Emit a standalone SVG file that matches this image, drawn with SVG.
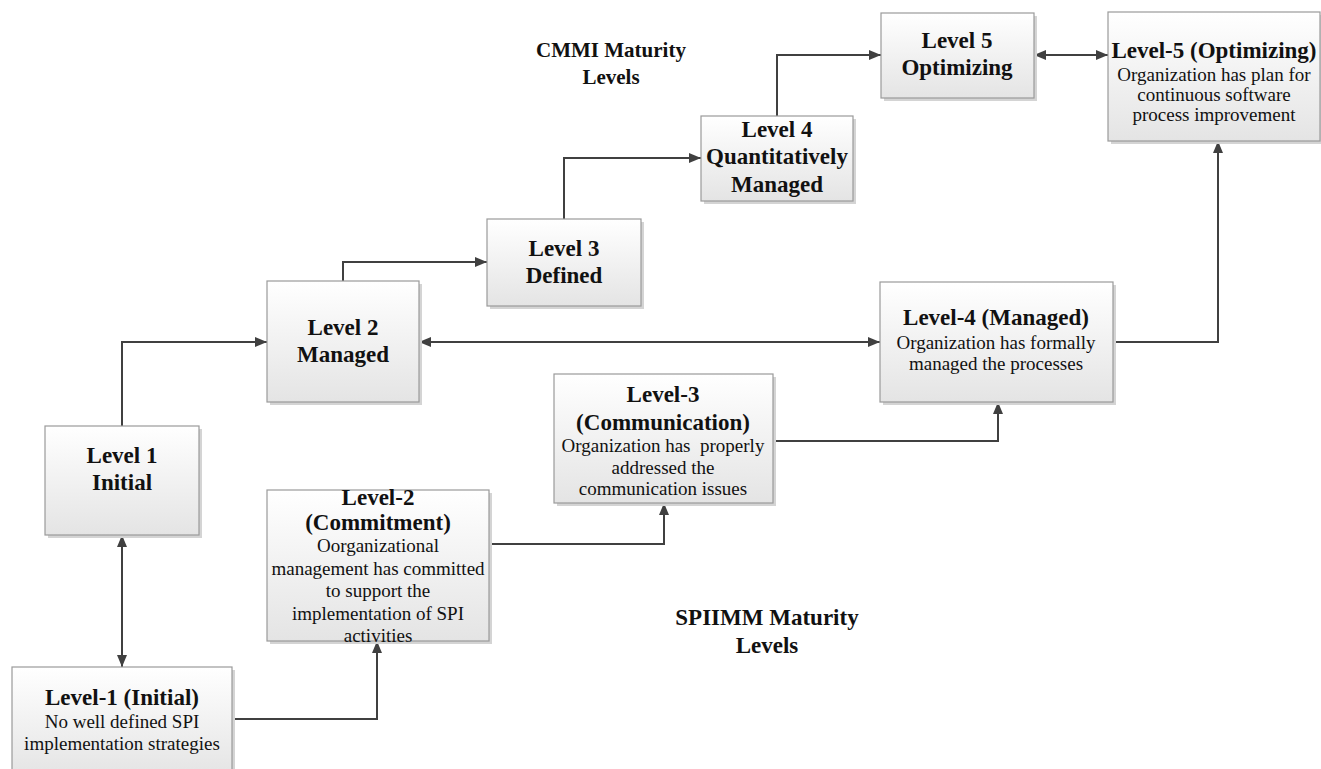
<svg xmlns="http://www.w3.org/2000/svg" width="1321" height="769" viewBox="0 0 1321 769">
<defs>
<linearGradient id="g" x1="0" y1="0" x2="0" y2="1">
<stop offset="0" stop-color="#ffffff"/>
<stop offset="1" stop-color="#e4e4e4"/>
</linearGradient>
<marker id="ah" viewBox="0 0 12 10" refX="12" refY="5" markerWidth="12" markerHeight="10" markerUnits="userSpaceOnUse" orient="auto-start-reverse">
<path d="M0,0 L12,5 L0,10 z" fill="#404040"/>
</marker>
<style>
.sh{fill:#d4d4d4}
.bx{fill:url(#g);stroke:#9a9a9a;stroke-width:1.2}
.c{fill:none;stroke:#404040;stroke-width:2}
.t{font-family:'Liberation Serif','Times New Roman',serif;font-weight:bold;font-size:23px;fill:#111;text-anchor:middle}
.b{font-family:'Liberation Serif','Times New Roman',serif;font-size:19px;fill:#111;text-anchor:middle}
</style>
</defs>
<rect width="1321" height="769" fill="#ffffff"/>

<g id="connectors">
<path class="c" d="M122,426 V342 H267" marker-end="url(#ah)"/>
<path class="c" d="M343,281 V262 H487" marker-end="url(#ah)"/>
<path class="c" d="M564,219 V158 H701" marker-end="url(#ah)"/>
<path class="c" d="M777,116 V55 H881" marker-end="url(#ah)"/>
<path class="c" d="M1034,55 H1108" marker-start="url(#ah)" marker-end="url(#ah)"/>
<path class="c" d="M419,342 H880" marker-start="url(#ah)" marker-end="url(#ah)"/>
<path class="c" d="M122,535 V667" marker-start="url(#ah)" marker-end="url(#ah)"/>
<path class="c" d="M232,719 H377 V641" marker-end="url(#ah)"/>
<path class="c" d="M489,544 H664 V503" marker-end="url(#ah)"/>
<path class="c" d="M773,441 H998 V402" marker-end="url(#ah)"/>
<path class="c" d="M1113,342 H1218 V141" marker-end="url(#ah)"/>
</g>

<g id="cmmi-label">
<text class="t" x="611" y="57" style="font-size:21px">CMMI Maturity</text>
<text class="t" x="611" y="84" style="font-size:21px">Levels</text>
</g>
<g id="spiimm-label">
<text class="t" x="767" y="625">SPIIMM Maturity</text>
<text class="t" x="767" y="653">Levels</text>
</g>

<g id="level1">
<rect class="sh" x="48" y="429" width="154" height="109"/>
<rect class="bx" x="45" y="426" width="154" height="109"/>
<text class="t" x="122" y="463">Level 1</text>
<text class="t" x="122" y="490">Initial</text>
</g>
<g id="level2">
<rect class="sh" x="270" y="284" width="152" height="121"/>
<rect class="bx" x="267" y="281" width="152" height="121"/>
<text class="t" x="343" y="335">Level 2</text>
<text class="t" x="343" y="362">Managed</text>
</g>
<g id="level3">
<rect class="sh" x="490" y="222" width="154" height="87"/>
<rect class="bx" x="487" y="219" width="154" height="87"/>
<text class="t" x="564" y="256">Level 3</text>
<text class="t" x="564" y="283">Defined</text>
</g>
<g id="level4">
<rect class="sh" x="704" y="119" width="152" height="85"/>
<rect class="bx" x="701" y="116" width="152" height="85"/>
<text class="t" x="777" y="137">Level 4</text>
<text class="t" x="777" y="164">Quantitatively</text>
<text class="t" x="777" y="192">Managed</text>
</g>
<g id="level5">
<rect class="sh" x="884" y="16" width="153" height="85"/>
<rect class="bx" x="881" y="13" width="153" height="85"/>
<text class="t" x="957" y="48">Level 5</text>
<text class="t" x="957" y="75">Optimizing</text>
</g>

<g id="spi1">
<rect class="sh" x="15" y="670" width="220" height="110"/>
<rect class="bx" x="12" y="667" width="220" height="110"/>
<text class="t" x="122" y="705">Level-1 (Initial)</text>
<text class="b" x="122" y="728">No well defined SPI</text>
<text class="b" x="122" y="750">implementation strategies</text>
</g>
<g id="spi2">
<rect class="sh" x="270" y="493" width="222" height="151"/>
<rect class="bx" x="267" y="490" width="222" height="151"/>
<text class="t" x="378" y="505">Level-2</text>
<text class="t" x="378" y="530">(Commitment)</text>
<text class="b" x="378" y="552">Oorganizational</text>
<text class="b" x="378" y="575">management has committed</text>
<text class="b" x="378" y="597">to support the</text>
<text class="b" x="378" y="620">implementation of SPI</text>
<text class="b" x="378" y="642">activities</text>
</g>
<g id="spi3">
<rect class="sh" x="557" y="377" width="219" height="129"/>
<rect class="bx" x="554" y="374" width="219" height="129"/>
<text class="t" x="663" y="402">Level-3</text>
<text class="t" x="663" y="430">(Communication)</text>
<text class="b" x="663" y="452">Organization has&#160; properly</text>
<text class="b" x="663" y="474">addressed the</text>
<text class="b" x="663" y="495">communication issues</text>
</g>
<g id="spi4">
<rect class="sh" x="883" y="285" width="233" height="120"/>
<rect class="bx" x="880" y="282" width="233" height="120"/>
<text class="t" x="996" y="325">Level-4 (Managed)</text>
<text class="b" x="996" y="349">Organization has formally</text>
<text class="b" x="996" y="370">managed the processes</text>
</g>
<g id="spi5">
<rect class="sh" x="1111" y="15" width="212" height="129"/>
<rect class="bx" x="1108" y="12" width="212" height="129"/>
<text class="t" x="1214" y="58">Level-5 (Optimizing)</text>
<text class="b" x="1214" y="81">Organization has plan for</text>
<text class="b" x="1214" y="101">continuous software</text>
<text class="b" x="1214" y="121">process improvement</text>
</g>
</svg>
